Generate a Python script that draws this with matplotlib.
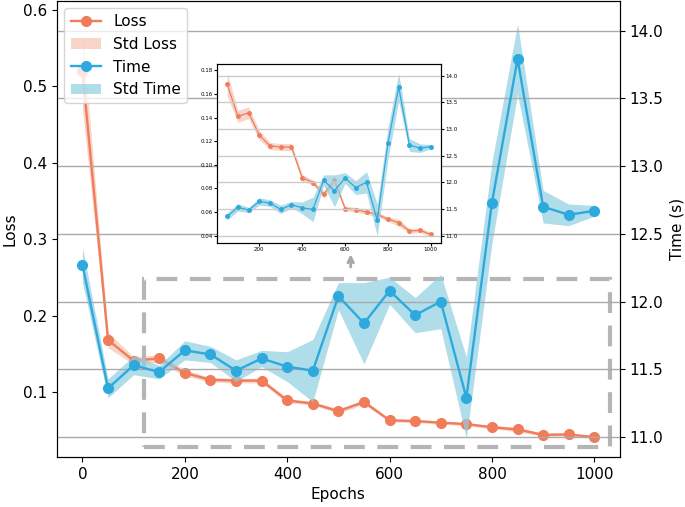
import numpy as np
import matplotlib
matplotlib.use("Agg")
import matplotlib.pyplot as plt
from matplotlib.patches import Rectangle

# data
epochs = [0, 50, 100, 150, 200, 250, 300, 350, 400, 450, 500,
          550, 600, 650, 700, 750, 800, 850, 900, 950, 1000]
loss_mean = [0.520, 0.168, 0.141, 0.144, 0.125, 0.116, 0.115, 0.115, 0.089, 0.085, 0.075,
             0.087, 0.063, 0.062, 0.060, 0.058, 0.054, 0.051, 0.044, 0.0445, 0.041]
loss_std = [0.050, 0.010, 0.005, 0.005, 0.004, 0.003, 0.003, 0.003, 0.003, 0.002, 0.003,
            0.003, 0.002, 0.002, 0.002, 0.002, 0.002, 0.003, 0.002, 0.002, 0.002]
time_mean = [12.27, 11.36, 11.53, 11.48, 11.64, 11.61, 11.49, 11.58, 11.52, 11.49, 12.04,
             11.84, 12.08, 11.90, 12.00, 11.29, 12.73, 13.79, 12.70, 12.64, 12.67]
time_std = [0.13, 0.07, 0.07, 0.05, 0.07, 0.06, 0.08, 0.06, 0.11, 0.23, 0.10,
            0.30, 0.10, 0.13, 0.20, 0.30, 0.30, 0.26, 0.12, 0.08, 0.04]

loss_color = "#f07c5a"
time_color = "#2ea9de"
band_loss = "#f4b9a6"
band_time = "#8fcfe2"

x = np.array(epochs)
lm, ls = np.array(loss_mean), np.array(loss_std)
tm, ts = np.array(time_mean), np.array(time_std)


def draw(ax, ax2, idx, ms, lw):
    ax.fill_between(x[idx], lm[idx] - ls[idx], lm[idx] + ls[idx], color=band_loss, alpha=0.6, lw=0)
    ax.plot(x[idx], lm[idx], color=loss_color, marker="o", ms=ms, lw=lw)
    ax2.fill_between(x[idx], tm[idx] - ts[idx], tm[idx] + ts[idx], color=band_time, alpha=0.7, lw=0)
    ax2.plot(x[idx], tm[idx], color=time_color, marker="o", ms=ms, lw=lw)


fig = plt.figure(figsize=(6.85, 5.07), dpi=100)
ax = fig.add_axes([0.083, 0.0986, 0.822, 0.90])
ax2 = ax.twinx()

draw(ax, ax2, slice(None), 7, 1.7)

ax.set_xlim(-50, 1050)
ax.set_ylim(0.015, 0.612)
ax2.set_ylim(10.853, 14.22)
ax.set_xticks([0, 200, 400, 600, 800, 1000])
ax.set_yticks([0.1, 0.2, 0.3, 0.4, 0.5, 0.6])
ax2.set_yticks([11.0, 11.5, 12.0, 12.5, 13.0, 13.5, 14.0])
ax2.grid(True, axis="y", color="#aaaaaa", lw=1)
ax.tick_params(labelsize=11)
ax2.tick_params(labelsize=11)
ax.set_xlabel("Epochs", fontsize=11)
ax.set_ylabel("Loss", fontsize=11)
ax2.set_ylabel("Time (s)", fontsize=11)

# zoom box and arrow
rect = Rectangle((121, 0.028), 910, 0.2195, fill=False, ec="#b5b5b5", lw=3,
                 ls=(0, (5, 3)), zorder=5)
ax.add_patch(rect)
ax.annotate("", xy=(524, 0.284), xytext=(524, 0.260),
            arrowprops=dict(arrowstyle="->", color="#a8a8a8", lw=2))

# legend
handles = [
    plt.Line2D([], [], color=loss_color, marker="o", ms=7, lw=1.7),
    plt.Rectangle((0, 0), 1, 1, fc=band_loss, alpha=0.6),
    plt.Line2D([], [], color=time_color, marker="o", ms=7, lw=1.7),
    plt.Rectangle((0, 0), 1, 1, fc=band_time, alpha=0.7),
]
ax2.legend(handles, ["Loss", "Std Loss", "Time", "Std Time"], loc="upper left",
           fontsize=11, framealpha=0.8, handlelength=2.0, borderaxespad=0.5)

# inset
axi = fig.add_axes([0.3168, 0.5207, 0.327, 0.354])
axi2 = axi.twinx()
draw(axi, axi2, slice(1, None), 2.5, 0.9)
axi.set_xlim(2.5, 1047.5)
axi.set_ylim(0.0338, 0.1857)
axi2.set_ylim(10.86, 14.23)
axi.set_xticks([200, 400, 600, 800, 1000])
axi.set_yticks([0.04, 0.06, 0.08, 0.10, 0.12, 0.14, 0.16, 0.18])
axi2.set_yticks([11.0, 11.5, 12.0, 12.5, 13.0, 13.5, 14.0])
axi2.grid(True, axis="y", color="#cccccc", lw=1)
axi.tick_params(labelsize=4, length=2, pad=1)
axi2.tick_params(labelsize=4, length=2, pad=1)
axi.set_zorder(10)
axi2.set_zorder(11)

fig.savefig("out.png", dpi=100)
